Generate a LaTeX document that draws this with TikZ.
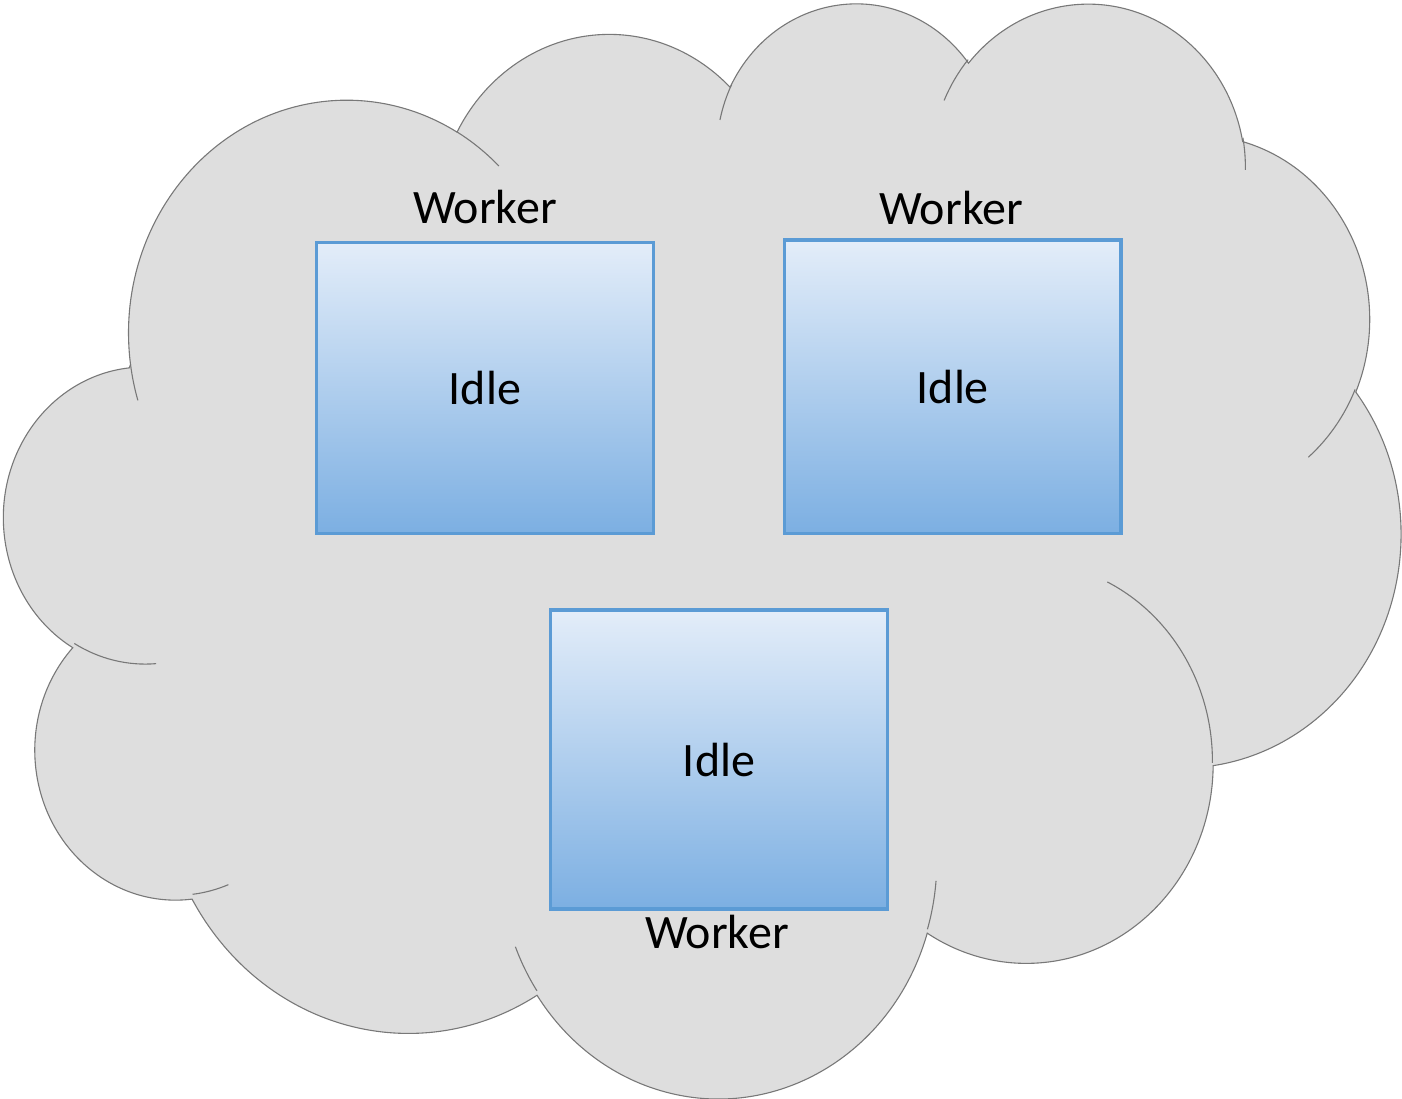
\documentclass[tikz,border=0pt]{standalone}
\usepackage{fontspec}
\setmainfont{Carlito}
\definecolor{cloudfill}{RGB}{222,222,222}
\definecolor{cloudedge}{RGB}{120,120,120}
\definecolor{boxedge}{RGB}{91,155,213}
\definecolor{boxtop}{RGB}{227,237,249}
\definecolor{boxbot}{RGB}{124,175,226}
% #1 start macro, #2 delta macro, #3 wR, #4 hR, #5 start (visual deg), #6 sweep (deg)
\newcommand\cloudarc[6]{%
  \pgfmathsetmacro\cldA{atan2((#3)*sin(#5),(#4)*cos(#5))}%
  \pgfmathsetmacro\cldB{atan2((#3)*sin((#5)+(#6)),(#4)*cos((#5)+(#6)))}%
  \pgfmathsetmacro\cldD{\cldB-\cldA}%
  \pgfmathsetmacro\cldE{\cldD+360*((#6)>0)*(\cldD<0)-360*((#6)<0)*(\cldD>0)}%
  \xdef#1{\cldA}\xdef#2{\cldE}%
}
\begin{document}
\begin{tikzpicture}[x=0.5pt,y=-0.5pt,
  cloudshape/.style={fill=cloudfill,draw=cloudedge,line width=0.55pt},
  cloudline/.style={draw=cloudedge,line width=0.55pt},
  idlebox/.style={draw=boxedge,line width=1.6pt,top color=boxtop,bottom color=boxbot,
    minimum width=168.25pt,inner sep=0pt,font=\fontsize{24}{28}\selectfont},
  lbl/.style={inner sep=0pt,font=\fontsize{24}{28}\selectfont}]
\useasboundingbox (0,0) rectangle (1402,1098);
% outline lobes
\cloudarc{\zsa}{\zda}{67.53}{91.90}{-190.4875}{123.7805}
\cloudarc{\zsb}{\zdb}{53.33}{72.67}{-144.1024}{89.9452}
\cloudarc{\zsc}{\zdc}{43.65}{59.45}{-145.8079}{99.7230}
\cloudarc{\zsd}{\zdd}{48.57}{65.95}{-130.9861}{117.2417}
\cloudarc{\zse}{\zde}{53.33}{72.73}{-78.7089}{109.0269}
\cloudarc{\zsf}{\zdf}{67.75}{92.20}{-46.2673}{130.2690}
\cloudarc{\zsg}{\zdg}{57.85}{78.67}{0.6250}{114.0333}
\cloudarc{\zsh}{\zdh}{67.52}{92.15}{22.4516}{115.1726}
\cloudarc{\zsi}{\zdi}{77.20}{105.43}{66.2426}{75.7110}
\cloudarc{\zsj}{\zdj}{43.60}{59.18}{-274.9421}{146.7356}
\cloudarc{\zsk}{\zdk}{43.45}{59.45}{-246.8285}{152.5189}
% inner arcs
\cloudarc{\zia}{\zja}{43.45}{59.45}{86.7420}{26.4295}
\cloudarc{\zib}{\zjb}{43.60}{59.18}{73.6105}{11.4475}
\cloudarc{\zic}{\zjc}{67.52}{92.15}{137.6242}{14.0811}
\cloudarc{\zid}{\zjd}{67.52}{92.15}{6.4533}{15.9984}
\cloudarc{\zie}{\zje}{57.85}{78.67}{-70.2924}{70.9174}
\cloudarc{\zif}{\zjf}{53.33}{72.73}{30.3180}{27.7515}
\cloudarc{\zig}{\zjg}{48.57}{65.95}{-13.7443}{14.8589}
\cloudarc{\zih}{\zjh}{48.57}{65.95}{-149.1815}{18.1954}
\cloudarc{\zii}{\zji}{43.65}{59.45}{-163.4943}{17.6864}
\cloudarc{\zij}{\zjj}{67.53}{91.90}{-66.7070}{12.3194}
\cloudarc{\zik}{\zjk}{67.53}{91.90}{157.6544}{11.8582}
\begin{scope}[shift={(4.5,0.3)},xscale=3.2314,yscale=2.534]
\path[cloudshape] (39.00,143.70)
  arc[x radius=67.53,y radius=91.90,start angle=\zsa,delta angle=\zda]
  arc[x radius=53.33,y radius=72.67,start angle=\zsb,delta angle=\zdb]
  arc[x radius=43.65,y radius=59.45,start angle=\zsc,delta angle=\zdc]
  arc[x radius=48.57,y radius=65.95,start angle=\zsd,delta angle=\zdd]
  arc[x radius=53.33,y radius=72.73,start angle=\zse,delta angle=\zde]
  arc[x radius=67.75,y radius=92.20,start angle=\zsf,delta angle=\zdf]
  arc[x radius=57.85,y radius=78.67,start angle=\zsg,delta angle=\zdg]
  arc[x radius=67.52,y radius=92.15,start angle=\zsh,delta angle=\zdh]
  arc[x radius=77.20,y radius=105.43,start angle=\zsi,delta angle=\zdi]
  arc[x radius=43.60,y radius=59.18,start angle=\zsj,delta angle=\zdj]
  arc[x radius=43.45,y radius=59.45,start angle=\zsk,delta angle=\zdk]
  -- cycle;
\path[cloudline]
  (46.93,261.77) arc[x radius=43.45,y radius=59.45,start angle=\zia,delta angle=\zja]
  (69.28,348.99) arc[x radius=43.60,y radius=59.18,start angle=\zib,delta angle=\zjb]
  (164.78,390.90) arc[x radius=67.52,y radius=92.15,start angle=\zic,delta angle=\zjc]
  (288.27,347.51) arc[x radius=67.52,y radius=92.15,start angle=\zid,delta angle=\zjd]
  (341.29,229.54) arc[x radius=57.85,y radius=78.67,start angle=\zie,delta angle=\zje]
  (417.98,153.54) arc[x radius=53.33,y radius=72.73,start angle=\zif,delta angle=\zjf]
  (383.24,54.26) arc[x radius=48.57,y radius=65.95,start angle=\zig,delta angle=\zjg]
  (290.78,39.52) arc[x radius=48.57,y radius=65.95,start angle=\zih,delta angle=\zjh]
  (221.41,47.20) arc[x radius=43.65,y radius=59.45,start angle=\zii,delta angle=\zji]
  (140.00,51.92) arc[x radius=67.53,y radius=91.90,start angle=\zij,delta angle=\zjj]
  (41.27,157.89) arc[x radius=67.53,y radius=91.90,start angle=\zik,delta angle=\zjk];
\end{scope}
% worker boxes
\node[idlebox,minimum height=145.5pt] (box1) at (485,388) {Idle};
\node[idlebox,minimum height=146.75pt] (box2) at (952.8,386.8) {Idle};
\node[idlebox,minimum height=149.5pt] (box3) at (719,759.5) {Idle};
\node[lbl,anchor=base] (lab1) at (485,223.5) {Worker};
\node[lbl,anchor=base] (lab2) at (951,224) {Worker};
\node[lbl,anchor=base] (lab3) at (717,948.3) {Worker};
\end{tikzpicture}
\end{document}
